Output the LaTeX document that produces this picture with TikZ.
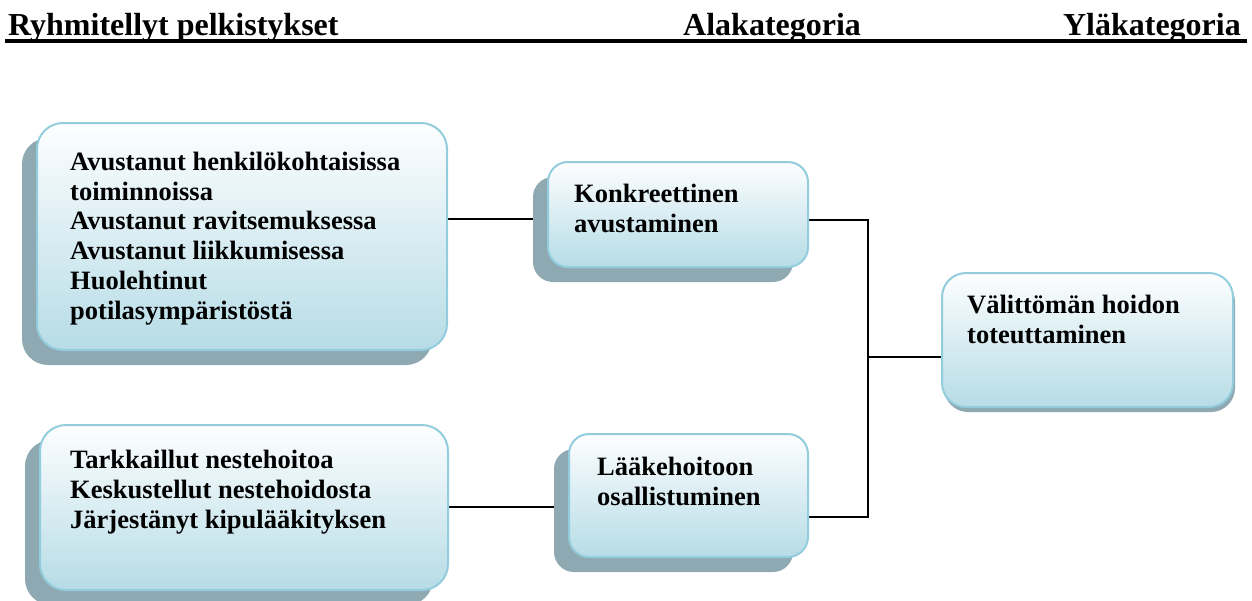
\documentclass[tikz,border=0pt]{standalone}
\usepackage{fontspec}
\setmainfont{Liberation Serif}
\usetikzlibrary{shadows}
\definecolor{boxedge}{HTML}{93CDDD}
\definecolor{boxtop}{HTML}{FDFEFF}
\definecolor{boxmid}{HTML}{DCEFF4}
\definecolor{boxbot}{HTML}{B6DCE6}
\definecolor{shadowc}{HTML}{8FA9B2}
\pgfdeclarelayer{bg}
\pgfsetlayers{bg,main}
\begin{document}
\begin{tikzpicture}[x=1pt,y=-1pt,
  card/.style={draw=boxedge, line width=2pt, rounded corners=#1,
    top color=boxtop, middle color=boxmid, bottom color=boxbot,
    inner sep=0pt, outer sep=0pt, anchor=north west},
  deep/.style={drop shadow={shadow xshift=-15pt, shadow yshift=-15pt,
    opacity=1, fill=shadowc}},
  flat/.style={drop shadow={shadow xshift=2pt, shadow yshift=-5pt,
    opacity=1, fill=shadowc}},
  label/.style={anchor=base west, inner sep=0pt, font=\fontsize{26.5}{30}\selectfont\bfseries},
  headtext/.style={inner sep=0pt, font=\fontsize{32}{34}\selectfont\bfseries},
  link/.style={line width=2pt, black}]
\useasboundingbox (0,0) rectangle (1252,600);

% column headings and rule
\node[headtext, anchor=base west] (h1) at (8,35) {Ryhmitellyt pelkistykset};
\node[headtext, anchor=base west] (h2) at (683,35) {Alakategoria};
\node[headtext, anchor=base east] (h3) at (1241,35) {Yläkategoria};
\draw[line width=4pt] (5,41) -- (1247,41);

% boxes
\node[card=26pt, deep, minimum width=410pt, minimum height=227pt] (A) at (37,123) {};
\node[card=20pt, deep, minimum width=260pt, minimum height=105pt] (B) at (548,162) {};
\node[card=24pt, flat, minimum width=291pt, minimum height=134pt] (C) at (942,273) {};
\node[card=26pt, deep, minimum width=408pt, minimum height=165pt] (D) at (40,425) {};
\node[card=20pt, deep, minimum width=239pt, minimum height=123pt] (E) at (569,434) {};

% box texts
\node[label] (ta1) at (70,170) {Avustanut henkilökohtaisissa};
\node[label] (ta2) at (70,200) {toiminnoissa};
\node[label] (ta3) at (70,229) {Avustanut ravitsemuksessa};
\node[label] (ta4) at (70,259) {Avustanut liikkumisessa};
\node[label] (ta5) at (70,289) {Huolehtinut};
\node[label] (ta6) at (70,319) {potilasympäristöstä};

\node[label] (tb1) at (574,202) {Konkreettinen};
\node[label] (tb2) at (574,232) {avustaminen};

\node[label] (tc1) at (967,313) {Välittömän hoidon};
\node[label] (tc2) at (967,343) {toteuttaminen};

\node[label] (td1) at (70,468) {Tarkkaillut nestehoitoa};
\node[label] (td2) at (70,498) {Keskustellut nestehoidosta};
\node[label] (td3) at (70,528) {Järjestänyt kipulääkityksen};

\node[label] (te1) at (597,475) {Lääkehoitoon};
\node[label] (te2) at (597,505) {osallistuminen};

% connectors
\coordinate (jtop) at (868,220);
\coordinate (jmid) at (868,357);
\coordinate (jbot) at (868,517);
\coordinate (upper) at (500,219);
\coordinate (lower) at (500,507);
\begin{pgfonlayer}{bg}
\draw[link] (A.east |- upper) -- (B.west |- upper);
\draw[link] (D.east |- lower) -- (E.west |- lower);
\draw[link] (B.east |- jtop) -- (jtop) -- (jbot) -- (E.east |- jbot);
\draw[link] (jmid) -- (C.west |- jmid);
\end{pgfonlayer}
\end{tikzpicture}
\end{document}
